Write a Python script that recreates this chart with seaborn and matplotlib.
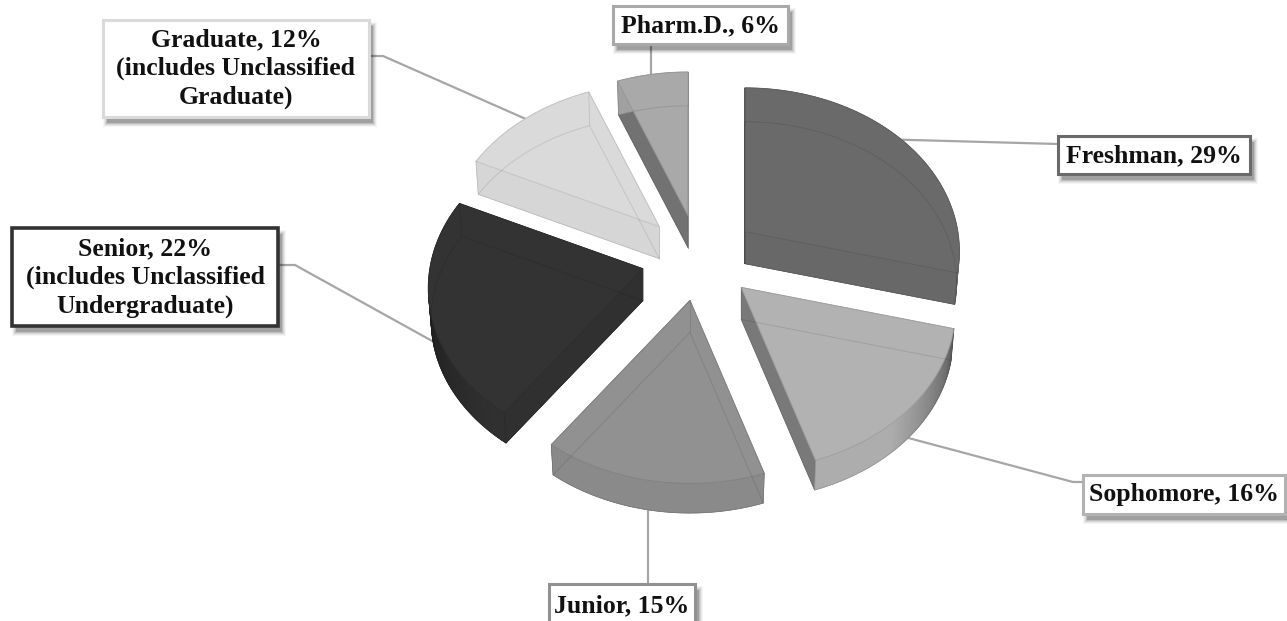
import numpy as np
import matplotlib
matplotlib.use("Agg")
import matplotlib.pyplot as plt
from matplotlib.colors import to_rgb
from matplotlib.patches import Polygon, Rectangle
import seaborn as sns

labels = [
    "Freshman, 29%",
    "Sophomore, 16%",
    "Junior, 15%",
    "Senior, 22%\n(includes Unclassified\nUndergraduate)",
    "Graduate, 12%\n(includes Unclassified\nGraduate)",
    "Pharm.D., 6%",
]
shares = [29, 16, 15, 22, 12, 6]
colors = ["#6a6a6a", "#b2b2b2", "#919191", "#333333", "#dadada", "#a9a9a9"]
wall_colors = ["#686868", "#adadad", "#8a8a8a", "#303030", "#d6d6d6", "#a3a3a3"]
arc_dark = [0, 0.55, 0, 0.35, 0, 0]

# label boxes: left, top, right, bottom in pixels
boxes = [
    (1058, 136, 1250, 174),
    (1083, 475, 1285, 514),
    (549, 584, 695, 626),
    (12, 228, 278, 326),
    (103, 20, 369, 117),
    (613, 6, 788, 44),
]
elbows = [None, (1073, 482), None, (295, 265), (383, 56), None]
attach = [(1058, 144), (1083, 482), (648, 584), (278, 265), (369, 56), (651, 44)]
anchor_bottom = [False, True, True, True, False, False]
border_w = [2.2, 2.2, 2.2, 2.6, 2.2, 2.2]

CX, CY = 699, 258
RX, RY = 213, 161
PERSP = 0.12
EXPLODE_X, EXPLODE_Y = 58, 43
DEPTH = 32


def project(apex, theta, bottom=False):
    # apex keeps its screen place, the rim is foreshortened towards the back
    y = np.cos(theta)
    s = 1 / (1 + PERSP * y)
    if bottom:
        s = s * 0.987
    return apex[0] + RX * np.sin(theta) * s, apex[1] - RY * y * s + (DEPTH if bottom else 0)


def shade(col, k):
    return tuple(c * (1 - k) for c in to_rgb(col))


def draw_wedge(ax, start, end, face, wall, dark):
    mid = np.radians((start + end) / 2)
    apex = (CX + EXPLODE_X * np.sin(mid), CY - EXPLODE_Y * np.cos(mid))
    apex_low = (apex[0], apex[1] + DEPTH)
    th = np.radians(np.linspace(start, end, 60))
    top = [apex] + [project(apex, t) for t in th]
    bot = [apex_low] + [project(apex, t, True) for t in th]

    ax.add_patch(Polygon(bot, closed=True, fc=wall, ec=wall, lw=0.5, zorder=2))

    # radial walls, darker when they face left
    for idx, normal in ((1, start - 90), (len(top) - 1, end + 90)):
        quad = [top[0], top[idx], bot[idx], bot[0]]
        nrm = normal % 360
        k = 0.3 if 230 <= nrm <= 310 else 0
        lw = 0.5
        if start == 0 and idx == 1:
            k = 0.5
            lw = 1.3
        ax.add_patch(Polygon(quad, closed=True, fc=shade(wall, k), ec=shade(wall, k), lw=lw, zorder=2.2))

    # outer wall, in strips so it can darken towards the sides
    for i in range(1, len(top) - 1):
        angle = (start + (end - start) * (i - 1) / 59) % 360
        k = dark * np.clip((abs(angle - 180) - 40) / 40, 0, 1)
        quad = [top[i], top[i + 1], bot[i + 1], bot[i]]
        c = shade(wall, k)
        ax.add_patch(Polygon(quad, closed=True, fc=c, ec=c, lw=0.4, zorder=2.4))

    ax.add_patch(Polygon(top, closed=True, fc=face, ec=shade(face, 0.1), lw=0.7, zorder=3))

    # see-through wireframe of the hidden edges
    bx, by = zip(*(bot + [bot[0]]))
    ax.plot(bx, by, color="black", lw=0.7, alpha=0.1, zorder=3.2)
    for idx in (0, 1, len(top) - 1):
        ax.plot([top[idx][0], bot[idx][0]], [top[idx][1], bot[idx][1]],
                color="black", lw=0.7, alpha=0.1, zorder=3.2)
    return apex, mid


def draw_label(ax, text, box, col, lw):
    x0, y0, x1, y1 = box
    for grow, a in ((4, 0.04), (3, 0.05), (2, 0.08), (1, 0.1), (0, 0.16)):
        ax.add_patch(Rectangle((x0 + 4 - grow, y0 + 6 - grow), x1 - x0 + 2 * grow, y1 - y0 + 2 * grow,
                               fc="black", ec="none", alpha=a, zorder=5))
    ax.add_patch(Rectangle((x0, y0), x1 - x0, y1 - y0, fc="white", ec=col, lw=lw, zorder=6))
    ax.text((x0 + x1) / 2, (y0 + y1) / 2 + 0.5, text, ha="center", va="center",
            fontsize=18.5, fontweight="bold", family="Liberation Serif", color="#111111",
            linespacing=1.3, zorder=7)


def main():
    sns.set_theme(style="white")
    fig, ax = plt.subplots(figsize=(12.87, 6.21), dpi=100)
    fig.subplots_adjust(0, 0, 1, 1)
    ax.set_xlim(0, 1287)
    ax.set_ylim(621, 0)
    ax.axis("off")

    ends = np.cumsum(shares) * 3.6
    starts = np.concatenate([[0], ends[:-1]])
    for i in range(len(shares)):
        apex, mid = draw_wedge(ax, starts[i], ends[i], colors[i], wall_colors[i], arc_dark[i])
        sx, sy = project(apex, mid, anchor_bottom[i])
        # nearly vertical leaders are kept straight
        if abs(sx - attach[i][0]) < 8:
            sx = attach[i][0]
        pts = [(sx, sy)]
        if elbows[i]:
            pts.append(elbows[i])
        pts.append(attach[i])
        xs, ys = zip(*pts)
        ax.plot(xs, ys, color="#a6a6a6", lw=1.6, zorder=1)
        draw_label(ax, labels[i], boxes[i], colors[i], border_w[i])

    fig.savefig("out.png", dpi=100)


if __name__ == "__main__":
    main()
